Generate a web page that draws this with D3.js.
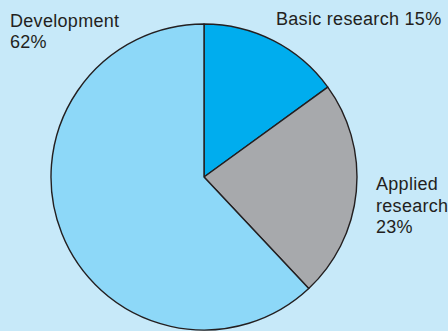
<!DOCTYPE html>
<html><head><meta charset="utf-8">
<script src="https://cdn.jsdelivr.net/npm/d3@7"></script>
<style>html,body{margin:0;padding:0;background:#c7e9f9;}svg{display:block;}</style>
</head><body>
<script>
const categories = ["Basic research", "Applied research", "Development"];
const values = [15, 23, 62];
const labels = [["Basic research 15%"], ["Applied", "research", "23%"], ["Development", "62%"]];
const colors = ["#00adee", "#a7a9ac", "#8dd8f8"];

const W = 448, H = 331;
const svg = d3.select("body").append("svg").attr("width", W).attr("height", H);
svg.append("rect").attr("width", W).attr("height", H).attr("fill", "#c7e9f9");

const cx = 204, cy = 177, r = 153;
const pie = d3.pie().sort(null).value(d => d)(values);
const arc = d3.arc().innerRadius(0).outerRadius(r);
const g = svg.append("g").attr("transform", `translate(${cx},${cy})`);
g.selectAll("path").data(pie).join("path")
  .attr("d", arc)
  .attr("fill", (d, i) => colors[i])
  .attr("stroke", "#231f20")
  .attr("stroke-width", 1.4)
  .attr("stroke-linejoin", "round");

const labelPos = [[276, 25], [376, 190], [10, 26.7]];
const lh = 21.5;
labels.forEach((lines, i) => {
  const t = svg.append("text")
    .attr("font-family", "Liberation Sans, Arial, Helvetica, sans-serif")
    .attr("font-size", 18)
    .attr("letter-spacing", 0.3)
    .attr("fill", "#231f20");
  lines.forEach((ln, j) => {
    t.append("tspan").attr("x", labelPos[i][0]).attr("y", labelPos[i][1] + j * lh).text(ln);
  });
});
</script>
</body></html>
